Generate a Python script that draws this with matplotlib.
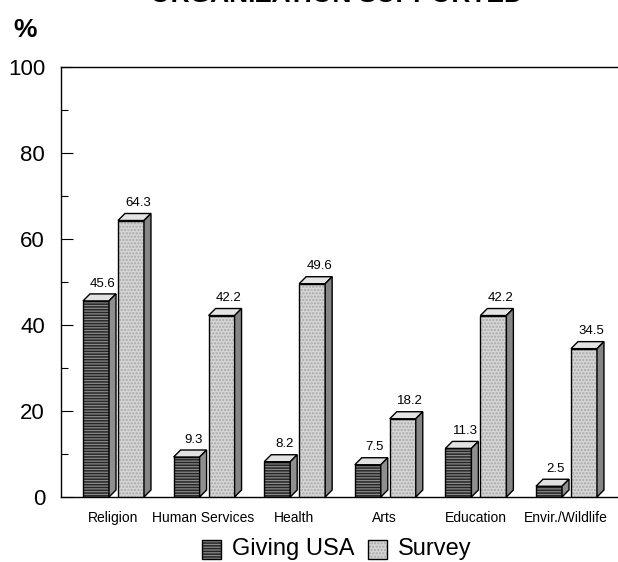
import matplotlib
matplotlib.use('Agg')
import matplotlib.pyplot as plt
from matplotlib.patches import Polygon, Rectangle

plt.rcParams['font.family'] = ['Liberation Sans', 'DejaVu Sans']
plt.rcParams['hatch.linewidth'] = 1.1

categories = ['Religion', 'Human Services', 'Health', 'Arts', 'Education', 'Envir./Wildlife']
giving_usa = [45.6, 9.3, 8.2, 7.5, 11.3, 2.5]
survey = [64.3, 42.2, 49.6, 18.2, 42.2, 34.5]
series_names = ['Giving USA', 'Survey']

W, H = 618, 562
fig = plt.figure(figsize=(W / 100, H / 100), dpi=100)
ax = fig.add_axes([61 / W, 1 - 497 / H, 1 - 61 / W, (497 - 67) / H])

bar_w = 0.287
dx, dy = 0.077, 1.63          # depth of the pseudo-3D boxes (data units)
offsets = [-0.331, 0.055]

styles = [
    dict(face='#8a8a8a', hatch='------', hatch_col='#262626',
         side='#8f8f8f', top='#e2e2e2'),
    dict(face='#d6d6d6', hatch='.....', hatch_col='#a8a8a8',
         side='#858585', top='#e4e4e4'),
]


def draw_box(x0, v, st, z):
    # front face: texture first, then the outline
    ax.bar(x0, v, bar_w, align='edge', color=st['face'], hatch=st['hatch'],
           edgecolor=st['hatch_col'], linewidth=0, zorder=z)
    ax.bar(x0, v, bar_w, align='edge', fill=False, edgecolor='black',
           linewidth=1.0, zorder=z + 0.01)
    x1 = x0 + bar_w
    top = Polygon([(x0, v), (x1, v), (x1 + dx, v + dy), (x0 + dx, v + dy)],
                  closed=True, facecolor=st['top'], edgecolor='black',
                  linewidth=1.0, zorder=z + 0.01)
    side = Polygon([(x1, 0), (x1 + dx, dy), (x1 + dx, v + dy), (x1, v)],
                   closed=True, facecolor=st['side'], edgecolor='black',
                   linewidth=1.0, zorder=z + 0.01)
    ax.add_patch(top)
    ax.add_patch(side)
    ax.text(x0 + bar_w / 2 + dx, v + dy + 1.0, f'{v:.1f}', ha='center',
            va='bottom', fontsize=9.5, zorder=z + 0.5)


for k, values in enumerate([giving_usa, survey]):
    for i, v in enumerate(values):
        draw_box(i + offsets[k], v, styles[k], 2 + k)

ax.set_xlim(-0.574, 5.574)
ax.set_ylim(0, 100)

ax.spines['right'].set_visible(False)
for s in ['left', 'top', 'bottom']:
    ax.spines[s].set_linewidth(1.0)

ax.set_yticks(range(0, 101, 20))
ax.set_yticks(range(10, 100, 20), minor=True)
ax.tick_params(axis='y', which='major', direction='in', length=8.6, width=0.8,
               labelsize=16, pad=11.5)
ax.tick_params(axis='y', which='minor', direction='in', length=5, width=0.8)
ax.set_xticks(range(len(categories)))
ax.set_xticklabels(categories, fontsize=10)
ax.tick_params(axis='x', length=0, pad=10)

# header text, running off the top edge
fig.text(336 / W, 1 - 2 / H, 'ORGANIZATION SUPPORTED', ha='center',
         va='baseline', fontsize=19, fontweight='bold')
fig.text(13 / W, 1 - 37 / H, '%', ha='left', va='baseline', fontsize=19,
         fontweight='bold')

# legend row
legend_pos = [(202, 232), (368, 398)]
for k, (px, tx) in enumerate(legend_pos):
    st = styles[k]
    fig.patches.append(Rectangle((px / W, 1 - 559 / H), 19 / W, 19 / H,
                                 transform=fig.transFigure, facecolor=st['face'],
                                 hatch=st['hatch'], edgecolor=st['hatch_col'],
                                 linewidth=0))
    fig.patches.append(Rectangle((px / W, 1 - 559 / H), 19 / W, 19 / H,
                                 transform=fig.transFigure, fill=False,
                                 edgecolor='black', linewidth=1.0))
    fig.text(tx / W, 1 - 549 / H, series_names[k], ha='left', va='center',
             fontsize=17)

fig.savefig('out.png', dpi=100)
